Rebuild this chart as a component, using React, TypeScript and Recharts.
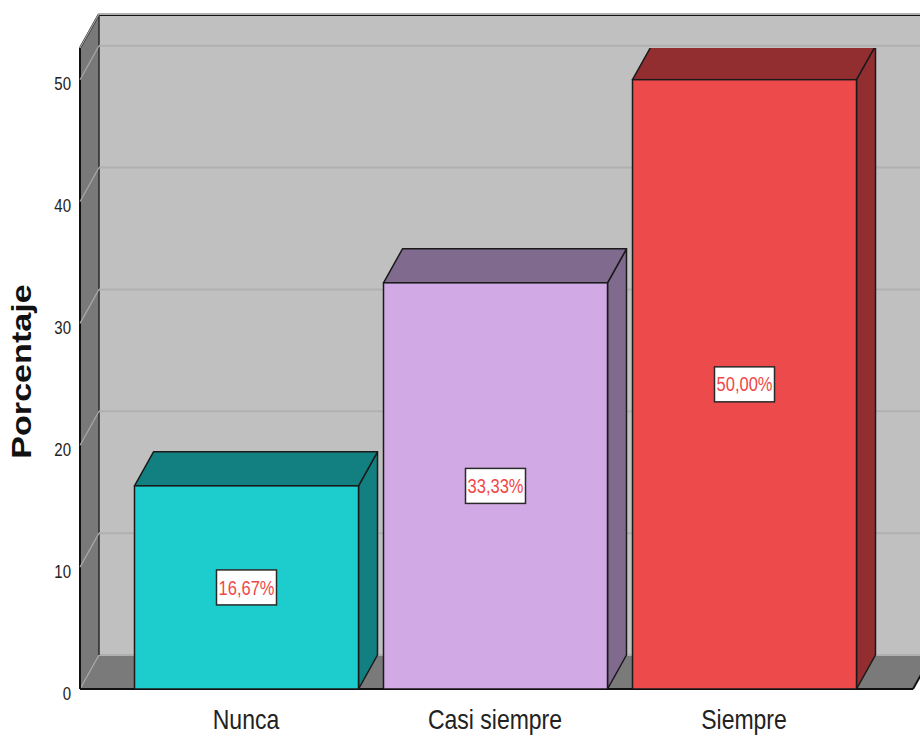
import React from 'react';
import { BarChart, Bar, XAxis, YAxis, CartesianGrid, LabelList } from 'recharts';

// Frequency percentages per answer category
const categories = ['Nunca', 'Casi siempre', 'Siempre'];
const percentages = [16.67, 33.33, 50.0];
const frontColors = ['#1dcdcd', '#d1a9e5', '#ec4a4b'];
const shadeColors = ['#128080', '#806a8e', '#922e30'];
const yTicks = [0, 10, 20, 30, 40, 50];
const yDomainMax = 52.6;

const data = categories.map((name, i) => ({
  name,
  value: percentages[i],
  front: frontColors[i],
  shade: shadeColors[i],
}));

// Layout
const W = 920;
const H = 738;
const PLOT_LEFT = 80;
const PLOT_TOP = 48;
const PLOT_RIGHT = 913;
const PLOT_BOTTOM = 689;
const DX = 19; // depth offset of the 3D projection
const DY = 34;
const STRETCH = 1.22; // vertical stretch applied to text
const FONT = '"Liberation Sans", Arial, sans-serif';

const fmtPct = (v: number) => v.toFixed(2).replace('.', ',') + '%';

// Back wall, left side wall and floor of the 3D frame
const Walls = ({ left, right }: { left: number; right: number }) => {
  const top = PLOT_TOP;
  const bottom = PLOT_BOTTOM;
  return (
    <g>
      <rect x={left + DX} y={top - DY} width={W - (left + DX)} height={bottom - top} fill="#c0c0c0" />
      <polygon
        points={`${left},${top} ${left + DX},${top - DY} ${left + DX},${bottom - DY} ${left},${bottom}`}
        fill="#797979"
      />
      <polygon
        points={`${left},${bottom} ${left + DX},${bottom - DY} ${right + DX},${bottom - DY} ${right},${bottom}`}
        fill="#7a7a7a"
      />
    </g>
  );
};

// Dark outline edges of the frame
const FrameEdges = ({ left, right }: { left: number; right: number }) => {
  const top = PLOT_TOP;
  const bottom = PLOT_BOTTOM;
  const s = { stroke: '#111111', strokeWidth: 2, strokeOpacity: 1 };
  return (
    <g>
      <line x1={left + DX} y1={top - DY + 1} x2={W} y2={top - DY + 1} {...s} />
      <line x1={left} y1={top} x2={left + DX} y2={top - DY} {...s} />
      <line x1={left} y1={top} x2={left} y2={bottom} {...s} />
      <line x1={left + DX} y1={top - DY} x2={left + DX} y2={bottom - DY} stroke="#2a2a2a" strokeWidth={1.5} />
      <line x1={left} y1={bottom} x2={right} y2={bottom} {...s} />
      <line x1={right} y1={bottom} x2={right + DX} y2={bottom - DY} {...s} />
    </g>
  );
};

// Gridlines are drawn on the back wall with a diagonal across the side wall
const renderGridLine = (props: any) => {
  const { x1, x2, y1, index } = props;
  return (
    <g key={`grid-${index}-${y1}`}>
      {index === 0 && <Walls left={x1} right={x2} />}
      <line x1={x1 + DX} y1={y1 - DY} x2={W} y2={y1 - DY} stroke="#b0b0b0" strokeWidth={2} strokeOpacity={1} />
      <line x1={x1} y1={y1} x2={x1 + DX} y2={y1 - DY} stroke="#a9a9a9" strokeWidth={1.2} strokeOpacity={1} />
      {index === 0 && <FrameEdges left={x1} right={x2} />}
    </g>
  );
};

// 3D box for each bar
const renderBox = (props: any) => {
  const { x, y, width, height, payload } = props;
  const stroke = '#1a1a1a';
  return (
    <g>
      <polygon
        points={`${x + width},${y} ${x + width + DX},${y - DY} ${x + width + DX},${y + height - DY} ${x + width},${y + height}`}
        fill={payload.shade}
        stroke={stroke}
        strokeWidth={1.5}
        strokeLinejoin="round"
      />
      <polygon
        points={`${x},${y} ${x + DX},${y - DY} ${x + width + DX},${y - DY} ${x + width},${y}`}
        fill={payload.shade}
        stroke={stroke}
        strokeWidth={1.5}
        strokeLinejoin="round"
      />
      <rect x={x} y={y} width={width} height={height} fill={payload.front} stroke={stroke} strokeWidth={1.5} />
    </g>
  );
};

const renderValueLabel = (props: any) => {
  const { x, y, width, height, value } = props;
  const cx = x + width / 2;
  const cy = y + height / 2;
  const bw = 60;
  const bh = 35;
  return (
    <g>
      <rect x={cx - bw / 2} y={cy - bh / 2} width={bw} height={bh} fill="#ffffff" stroke="#2a2a2a" strokeWidth={1.5} />
      <g transform={`translate(${cx},${cy}) scale(1,${STRETCH})`}>
        <text x={0} y={5.8} textAnchor="middle" fontFamily={FONT} fontSize={16.5} fill="#f04848">
          {fmtPct(Number(value))}
        </text>
      </g>
    </g>
  );
};

const renderYTick = (props: any) => {
  const { y, payload } = props;
  return (
    <g transform={`translate(${PLOT_LEFT - 9},${y + 4}) scale(1,${STRETCH})`}>
      <text x={0} y={5.4} textAnchor="end" fontFamily={FONT} fontSize={15} fill="#222">
        {payload.value}
      </text>
    </g>
  );
};

const renderXTick = (props: any) => {
  const { x, payload } = props;
  return (
    <g transform={`translate(${x},${PLOT_BOTTOM + 40}) scale(1,${STRETCH})`}>
      <text x={0} y={0} textAnchor="middle" fontFamily={FONT} fontSize={23} fill="#222">
        {payload.value}
      </text>
    </g>
  );
};

const renderTitle = () => (
  <g transform={`translate(31,${(PLOT_TOP + PLOT_BOTTOM) / 2 + 3}) scale(1,${STRETCH}) rotate(-90)`}>
    <text x={0} y={0} textAnchor="middle" fontFamily={FONT} fontSize={28} fontWeight="bold" fill="#111">
      Porcentaje
    </text>
  </g>
);

export default function App() {
  return (
    <div style={{ position: 'absolute', left: 0, top: 0, width: W, height: H, background: '#ffffff' }}>
      <BarChart
        width={W}
        height={H}
        data={data}
        margin={{ top: PLOT_TOP, left: 0, right: W - PLOT_RIGHT, bottom: 0 }}
      >
        <CartesianGrid vertical={false} horizontal={renderGridLine} />
        <XAxis
          dataKey="name"
          height={H - PLOT_BOTTOM}
          axisLine={false}
          tickLine={false}
          interval={0}
          padding={{ left: 41.5, right: 44.5 }}
          tick={renderXTick}
        />
        <YAxis
          type="number"
          domain={[0, yDomainMax]}
          ticks={yTicks}
          width={PLOT_LEFT}
          axisLine={false}
          tickLine={false}
          interval={0}
          allowDataOverflow
          tick={renderYTick}
          label={{ content: renderTitle }}
        />
        <Bar dataKey="value" barSize={224} shape={renderBox} isAnimationActive={false}>
          <LabelList dataKey="value" content={renderValueLabel} />
        </Bar>
      </BarChart>
    </div>
  );
}
